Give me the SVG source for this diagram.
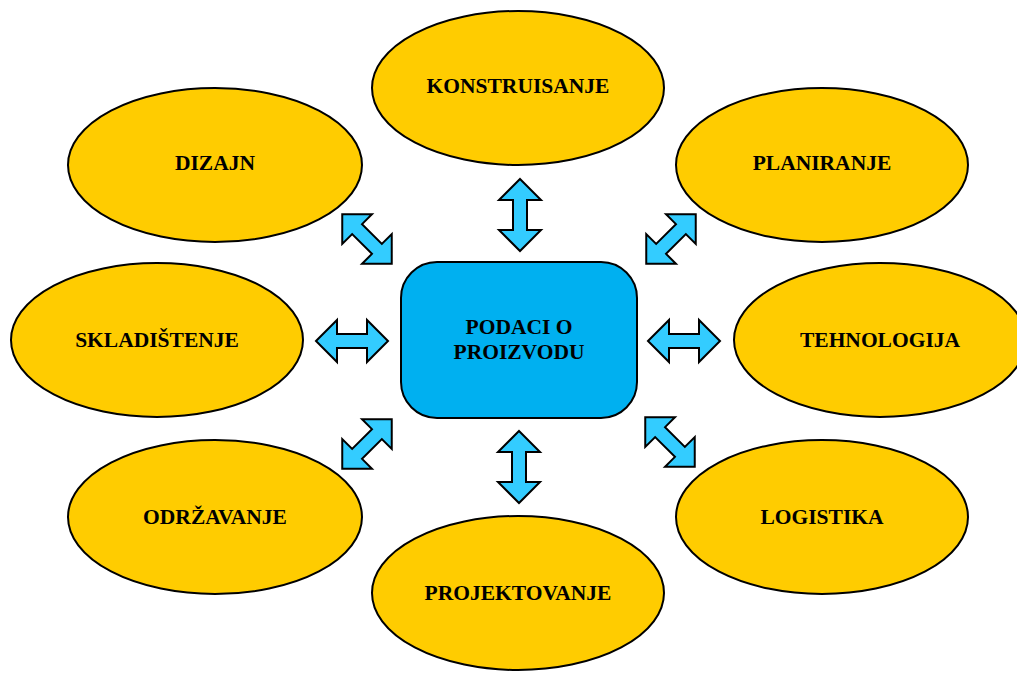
<svg xmlns="http://www.w3.org/2000/svg" width="1017" height="673" viewBox="0 0 1017 673">
  <defs>
    <style>
      .topic { fill: #FFCC00; stroke: #000; stroke-width: 2; }
      .core { fill: #00B0F0; stroke: #000; stroke-width: 2; }
      .link { fill: #33CCFF; stroke: #000; stroke-width: 2; stroke-linejoin: miter; }
      text { font-family: "Liberation Serif", "Times New Roman", serif; font-weight: bold; font-size: 21.5px; fill: #000; text-anchor: middle; }
    </style>
    <!-- double-headed block arrow, centred on the origin, pointing along x -->
    <polygon id="dbl" points="-36,0 -15,-21 -15,-7 15,-7 15,-21 36,0 15,21 15,7 -15,7 -15,21"/>
    <polygon id="dblDiag" points="-35,0 -14,-21 -14,-7 14,-7 14,-21 35,0 14,21 14,7 -14,7 -14,21"/>
  </defs>
  <rect width="1017" height="673" fill="#fff"/>

  <g id="connectors">
    <use href="#dbl" class="link" transform="translate(520,215) rotate(90)"/>
    <use href="#dbl" class="link" transform="translate(519,467) rotate(90)"/>
    <use href="#dbl" class="link" transform="translate(352,341)"/>
    <use href="#dbl" class="link" transform="translate(684,341)"/>
    <use href="#dblDiag" class="link" transform="translate(367,239) rotate(45)"/>
    <use href="#dblDiag" class="link" transform="translate(671,239) rotate(-45)"/>
    <use href="#dblDiag" class="link" transform="translate(367,444) rotate(-45)"/>
    <use href="#dblDiag" class="link" transform="translate(670,442) rotate(45)"/>
  </g>

  <g id="konstruisanje">
    <ellipse class="topic" cx="518" cy="88" rx="146" ry="77"/>
    <text x="518" y="93">KONSTRUISANJE</text>
  </g>
  <g id="dizajn">
    <ellipse class="topic" cx="215" cy="165" rx="147" ry="77"/>
    <text x="215" y="170">DIZAJN</text>
  </g>
  <g id="planiranje">
    <ellipse class="topic" cx="822" cy="165" rx="146" ry="77"/>
    <text x="822" y="170">PLANIRANJE</text>
  </g>
  <g id="skladistenje">
    <ellipse class="topic" cx="157" cy="340" rx="146" ry="77"/>
    <text x="157" y="347">SKLADIŠTENJE</text>
  </g>
  <g id="tehnologija">
    <ellipse class="topic" cx="880" cy="340" rx="146" ry="77"/>
    <text x="880" y="347">TEHNOLOGIJA</text>
  </g>
  <g id="odrzavanje">
    <ellipse class="topic" cx="215" cy="517" rx="147" ry="77"/>
    <text x="215" y="524">ODRŽAVANJE</text>
  </g>
  <g id="logistika">
    <ellipse class="topic" cx="822" cy="517" rx="146" ry="77"/>
    <text x="822" y="524">LOGISTIKA</text>
  </g>
  <g id="projektovanje">
    <ellipse class="topic" cx="518" cy="593" rx="146" ry="77"/>
    <text x="518" y="600">PROJEKTOVANJE</text>
  </g>

  <g id="podaci-o-proizvodu">
    <rect class="core" x="401" y="262" width="236" height="156" rx="36" ry="36"/>
    <text x="519" y="334">PODACI O</text>
    <text x="519" y="359">PROIZVODU</text>
  </g>
</svg>
